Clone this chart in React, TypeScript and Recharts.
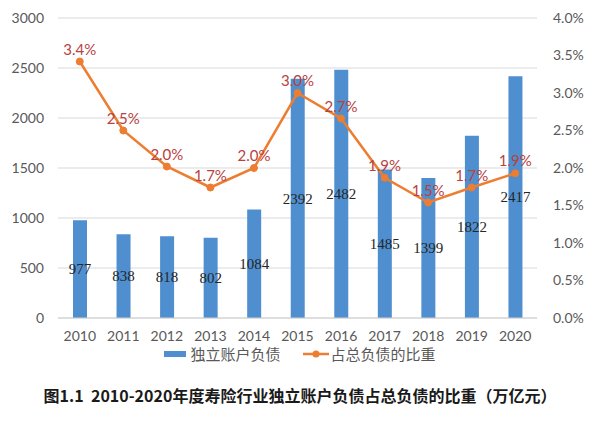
import React from "react";
import {
  ComposedChart,
  Bar,
  Line,
  XAxis,
  YAxis,
  CartesianGrid,
  LabelList,
} from "recharts";

const years = ["2010", "2011", "2012", "2013", "2014", "2015", "2016", "2017", "2018", "2019", "2020"];
const liabilities = [977, 838, 818, 802, 1084, 2392, 2482, 1485, 1399, 1822, 2417];
const shares = [3.42, 2.5, 2.02, 1.74, 2.0, 3.0, 2.66, 1.87, 1.54, 1.74, 1.93];
const leftTicks = [0, 500, 1000, 1500, 2000, 2500, 3000];
const rightTicks = [0, 0.5, 1, 1.5, 2, 2.5, 3, 3.5, 4];

const barName = "独立账户负债";
const lineName = "占总负债的比重";
const title = "图1.1  2010-2020年度寿险行业独立账户负债占总负债的比重（万亿元）";

const data = years.map((y, i) => ({ year: y, value: liabilities[i], share: shares[i] }));

const BLUE = "#4f8fd0";
const ORANGE = "#ed7d31";
const TICK = { fill: "#595959", fontSize: 14, fontFamily: "Lato, 'Liberation Sans', sans-serif" };

export default function App() {
  return (
    <div
      style={{
        position: "absolute",
        left: 0,
        top: 0,
        width: 600,
        height: 422,
        background: "#ffffff",
        overflow: "hidden",
      }}
    >
      <ComposedChart
        width={600}
        height={346}
        data={data}
        margin={{ top: 18, right: 0, left: 0, bottom: 0 }}
      >
        <CartesianGrid yAxisId="left" vertical={false} stroke="#d9d9d9" strokeWidth={1} />
        <XAxis
          dataKey="year"
          height={28}
          tickLine={false}
          axisLine={{ stroke: "#d0d0d0" }}
          tickSize={0}
          tickMargin={13}
          tick={TICK}
          interval={0}
        />
        <YAxis
          yAxisId="left"
          orientation="left"
          width={58}
          domain={[0, 3000]}
          ticks={leftTicks}
          tickLine={false}
          axisLine={false}
          tickSize={0}
          tickMargin={14}
          tick={TICK}
          interval={0}
        />
        <YAxis
          yAxisId="right"
          orientation="right"
          width={63}
          domain={[0, 4]}
          ticks={rightTicks}
          tickLine={false}
          axisLine={false}
          tickSize={0}
          tickMargin={16}
          tick={TICK}
          interval={0}
          tickFormatter={(v: number) => v.toFixed(1) + "%"}
        />
        <Bar yAxisId="left" dataKey="value" fill={BLUE} barSize={14} isAnimationActive={false}>
          <LabelList
            dataKey="value"
            position="center"
            fill="#262626"
            style={{ fontSize: 15, fontFamily: "'Liberation Serif', serif" }}
          />
        </Bar>
        <Line
          yAxisId="right"
          dataKey="share"
          stroke={ORANGE}
          strokeWidth={2.5}
          dot={{ r: 3.5, fill: ORANGE, stroke: ORANGE, strokeWidth: 1 }}
          isAnimationActive={false}
        >
          <LabelList
            dataKey="share"
            position="top"
            offset={7}
            fill="#b8423f"
            formatter={(v: number) => v.toFixed(1) + "%"}
            style={{ fontSize: 15, fontFamily: "Lato, 'Liberation Sans', sans-serif" }}
          />
        </Line>
      </ComposedChart>
      <div
        style={{
          position: "absolute",
          top: 346,
          left: 0,
          width: 600,
          display: "flex",
          justifyContent: "center",
          alignItems: "center",
          fontFamily: "'Noto Sans CJK SC', sans-serif",
          fontSize: 15,
          color: "#595959",
          lineHeight: "16px",
        }}
      >
        <div style={{ display: "flex", alignItems: "center" }}>
          <span style={{ display: "inline-block", width: 22, height: 6, background: BLUE, marginRight: 4 }} />
          <span>{barName}</span>
        </div>
        <div style={{ display: "flex", alignItems: "center", marginLeft: 22 }}>
          <svg width={26} height={10} style={{ marginRight: 2 }}>
            <line x1={0} y1={5} x2={26} y2={5} stroke={ORANGE} strokeWidth={2.5} />
            <circle cx={13} cy={5} r={3.5} fill={ORANGE} />
          </svg>
          <span>{lineName}</span>
        </div>
      </div>
      <div
        style={{
          position: "absolute",
          top: 384,
          left: 0,
          width: 600,
          textAlign: "center",
          fontFamily: "'Noto Sans CJK SC', sans-serif",
          fontWeight: 700,
          fontSize: 16,
          color: "#1a1a1a",
          lineHeight: "22px",
          whiteSpace: "pre",
        }}
      >
        {title}
      </div>
    </div>
  );
}
